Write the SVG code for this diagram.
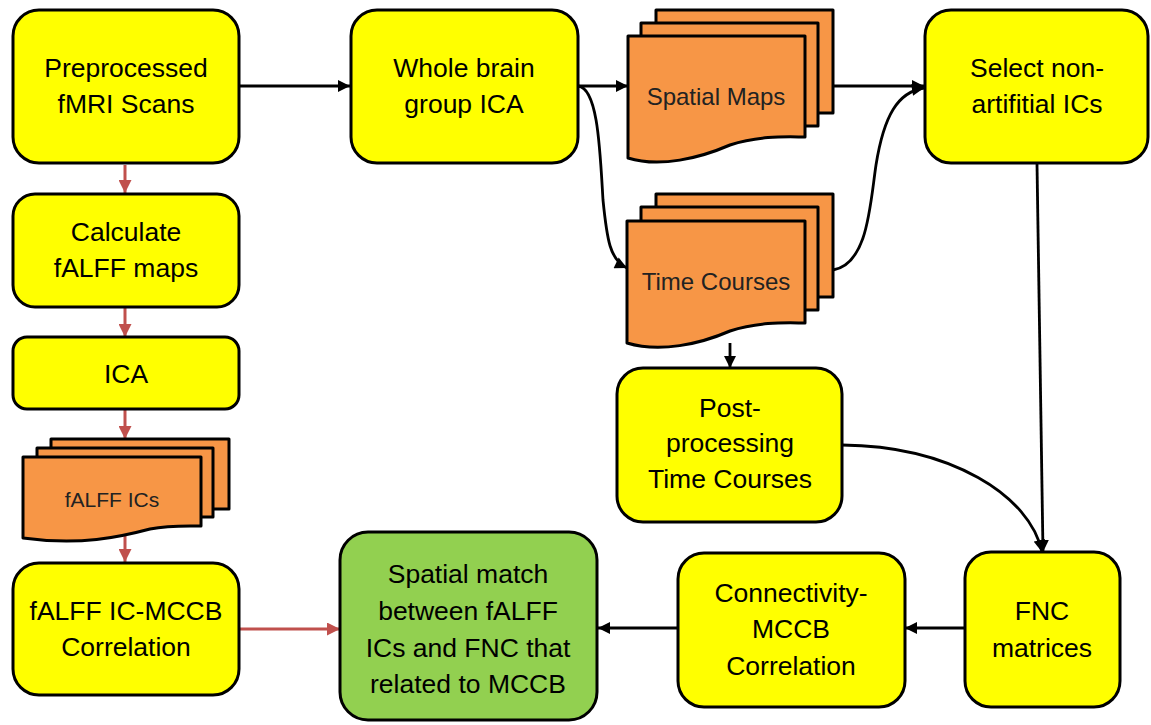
<svg xmlns="http://www.w3.org/2000/svg" width="1151" height="725" viewBox="0 0 1151 725">
<style>
.box{fill:#FFFF00;stroke:#000;stroke-width:3}
.green{fill:#92D050;stroke:#000;stroke-width:3}
.doc{fill:#F79646;stroke:#000;stroke-width:3;stroke-linejoin:round}
.t{font-family:"Liberation Sans",Arial,sans-serif;font-size:26.5px;fill:#000;text-anchor:middle}
.dt{font-family:"Liberation Sans",Arial,sans-serif;font-size:24px;fill:#222;text-anchor:middle}
.blk{fill:none;stroke:#000;stroke-width:2.8}
.red{fill:none;stroke:#C0504D;stroke-width:3}
</style>
<defs>
<marker id="ab" viewBox="0 0 10 10" refX="10" refY="5" markerWidth="13" markerHeight="12" markerUnits="userSpaceOnUse" orient="auto">
<path d="M0,0 L10,5 L0,10 z" fill="#000"/>
</marker>
<marker id="ar" viewBox="0 0 10 10" refX="10" refY="5" markerWidth="13" markerHeight="13" markerUnits="userSpaceOnUse" orient="auto">
<path d="M0,0 L10,5 L0,10 z" fill="#C0504D"/>
</marker>
</defs>

<g id="connectors">
<line class="red" x1="125" y1="165" x2="125" y2="193" marker-end="url(#ar)"/>
<line class="red" x1="125" y1="308" x2="125" y2="337" marker-end="url(#ar)"/>
<line class="red" x1="125" y1="410" x2="125" y2="439" marker-end="url(#ar)"/>
<line class="red" x1="125" y1="532" x2="125" y2="562" marker-end="url(#ar)"/>
<line class="red" x1="240" y1="629" x2="340" y2="629" marker-end="url(#ar)"/>
<line class="blk" x1="240" y1="86" x2="350" y2="86" marker-end="url(#ab)"/>
<line class="blk" x1="578" y1="86" x2="628" y2="86" marker-end="url(#ab)"/>
<path class="blk" d="M578,86 C598,88 600,150 603,200 C607,240 610,260 627,268" marker-end="url(#ab)"/>
<line class="blk" x1="833" y1="86" x2="924" y2="86" marker-end="url(#ab)"/>
<path class="blk" d="M833,270 C868,264 870,205 876,165 C884,115 898,92 924,88" marker-end="url(#ab)"/>
<line class="blk" x1="730" y1="343" x2="730" y2="368" marker-end="url(#ab)"/>
<line class="blk" x1="1037" y1="164" x2="1043" y2="552" marker-end="url(#ab)"/>
<path class="blk" d="M842,445 C950,446 1030,495 1042,552" marker-end="url(#ab)"/>
<line class="blk" x1="965" y1="628" x2="905" y2="628" marker-end="url(#ab)"/>
<line class="blk" x1="678" y1="628" x2="598" y2="628" marker-end="url(#ab)"/>
</g>

<g id="preprocessed">
<rect class="box" x="13" y="10" width="226" height="153" rx="26"/>
<text class="t" x="126" y="77">Preprocessed</text>
<text class="t" x="126" y="113">fMRI Scans</text>
</g>

<g id="whole-brain">
<rect class="box" x="351" y="10" width="227" height="153" rx="26"/>
<text class="t" x="464" y="77">Whole brain</text>
<text class="t" x="464" y="113">group ICA</text>
</g>

<g id="spatial-maps">
<rect class="doc" x="656" y="10" width="177" height="103"/>
<rect class="doc" x="641" y="23" width="177" height="103"/>
<path class="doc" d="M628,36 L805,36 L805,137 C790,137 760,135 730,145 C700,158 660,168 628,158 Z"/>
<text class="dt" x="716" y="105">Spatial Maps</text>
</g>

<g id="time-courses">
<rect class="doc" x="656" y="194" width="177" height="103"/>
<rect class="doc" x="641" y="207" width="177" height="103"/>
<path class="doc" d="M627,221 L805,221 L805,323 C790,323 760,321 730,331 C700,344 660,353 627,343 Z"/>
<text class="dt" x="716" y="290">Time Courses</text>
</g>

<g id="select">
<rect class="box" x="925" y="10" width="223" height="153" rx="26"/>
<text class="t" x="1037" y="77">Select non-</text>
<text class="t" x="1037" y="113">artifitial ICs</text>
</g>

<g id="calculate">
<rect class="box" x="13" y="194" width="226" height="113" rx="22"/>
<text class="t" x="126" y="241">Calculate</text>
<text class="t" x="126" y="277">fALFF maps</text>
</g>

<g id="ica">
<rect class="box" x="13" y="337" width="226" height="72" rx="14"/>
<text class="t" x="126" y="383">ICA</text>
</g>

<g id="falff-ics">
<rect class="doc" x="51" y="439" width="178" height="70"/>
<rect class="doc" x="37" y="448" width="176" height="69"/>
<path class="doc" d="M23,457 L201,457 L201,526 C190,526 170,525 150,529 C120,537 80,546 23,538 Z"/>
<text class="dt" x="112" y="507" style="font-size:21px">fALFF ICs</text>
</g>

<g id="falff-corr">
<rect class="box" x="13" y="563" width="226" height="132" rx="26"/>
<text class="t" x="126" y="620">fALFF IC-MCCB</text>
<text class="t" x="126" y="656">Correlation</text>
</g>

<g id="post">
<rect class="box" x="617" y="368" width="225" height="154" rx="26"/>
<text class="t" x="730" y="417">Post-</text>
<text class="t" x="730" y="452">processing</text>
<text class="t" x="730" y="488">Time Courses</text>
</g>

<g id="spatial-match">
<rect class="green" x="340" y="532" width="257" height="188" rx="28"/>
<text class="t" x="468" y="583">Spatial match</text>
<text class="t" x="468" y="620">between fALFF</text>
<text class="t" x="468" y="657">ICs and FNC that</text>
<text class="t" x="468" y="693">related to MCCB</text>
</g>

<g id="connectivity">
<rect class="box" x="678" y="553" width="227" height="154" rx="26"/>
<text class="t" x="791" y="602">Connectivity-</text>
<text class="t" x="791" y="638">MCCB</text>
<text class="t" x="791" y="675">Correlation</text>
</g>

<g id="fnc">
<rect class="box" x="965" y="552" width="155" height="155" rx="26"/>
<text class="t" x="1042" y="620">FNC</text>
<text class="t" x="1042" y="657">matrices</text>
</g>
</svg>
